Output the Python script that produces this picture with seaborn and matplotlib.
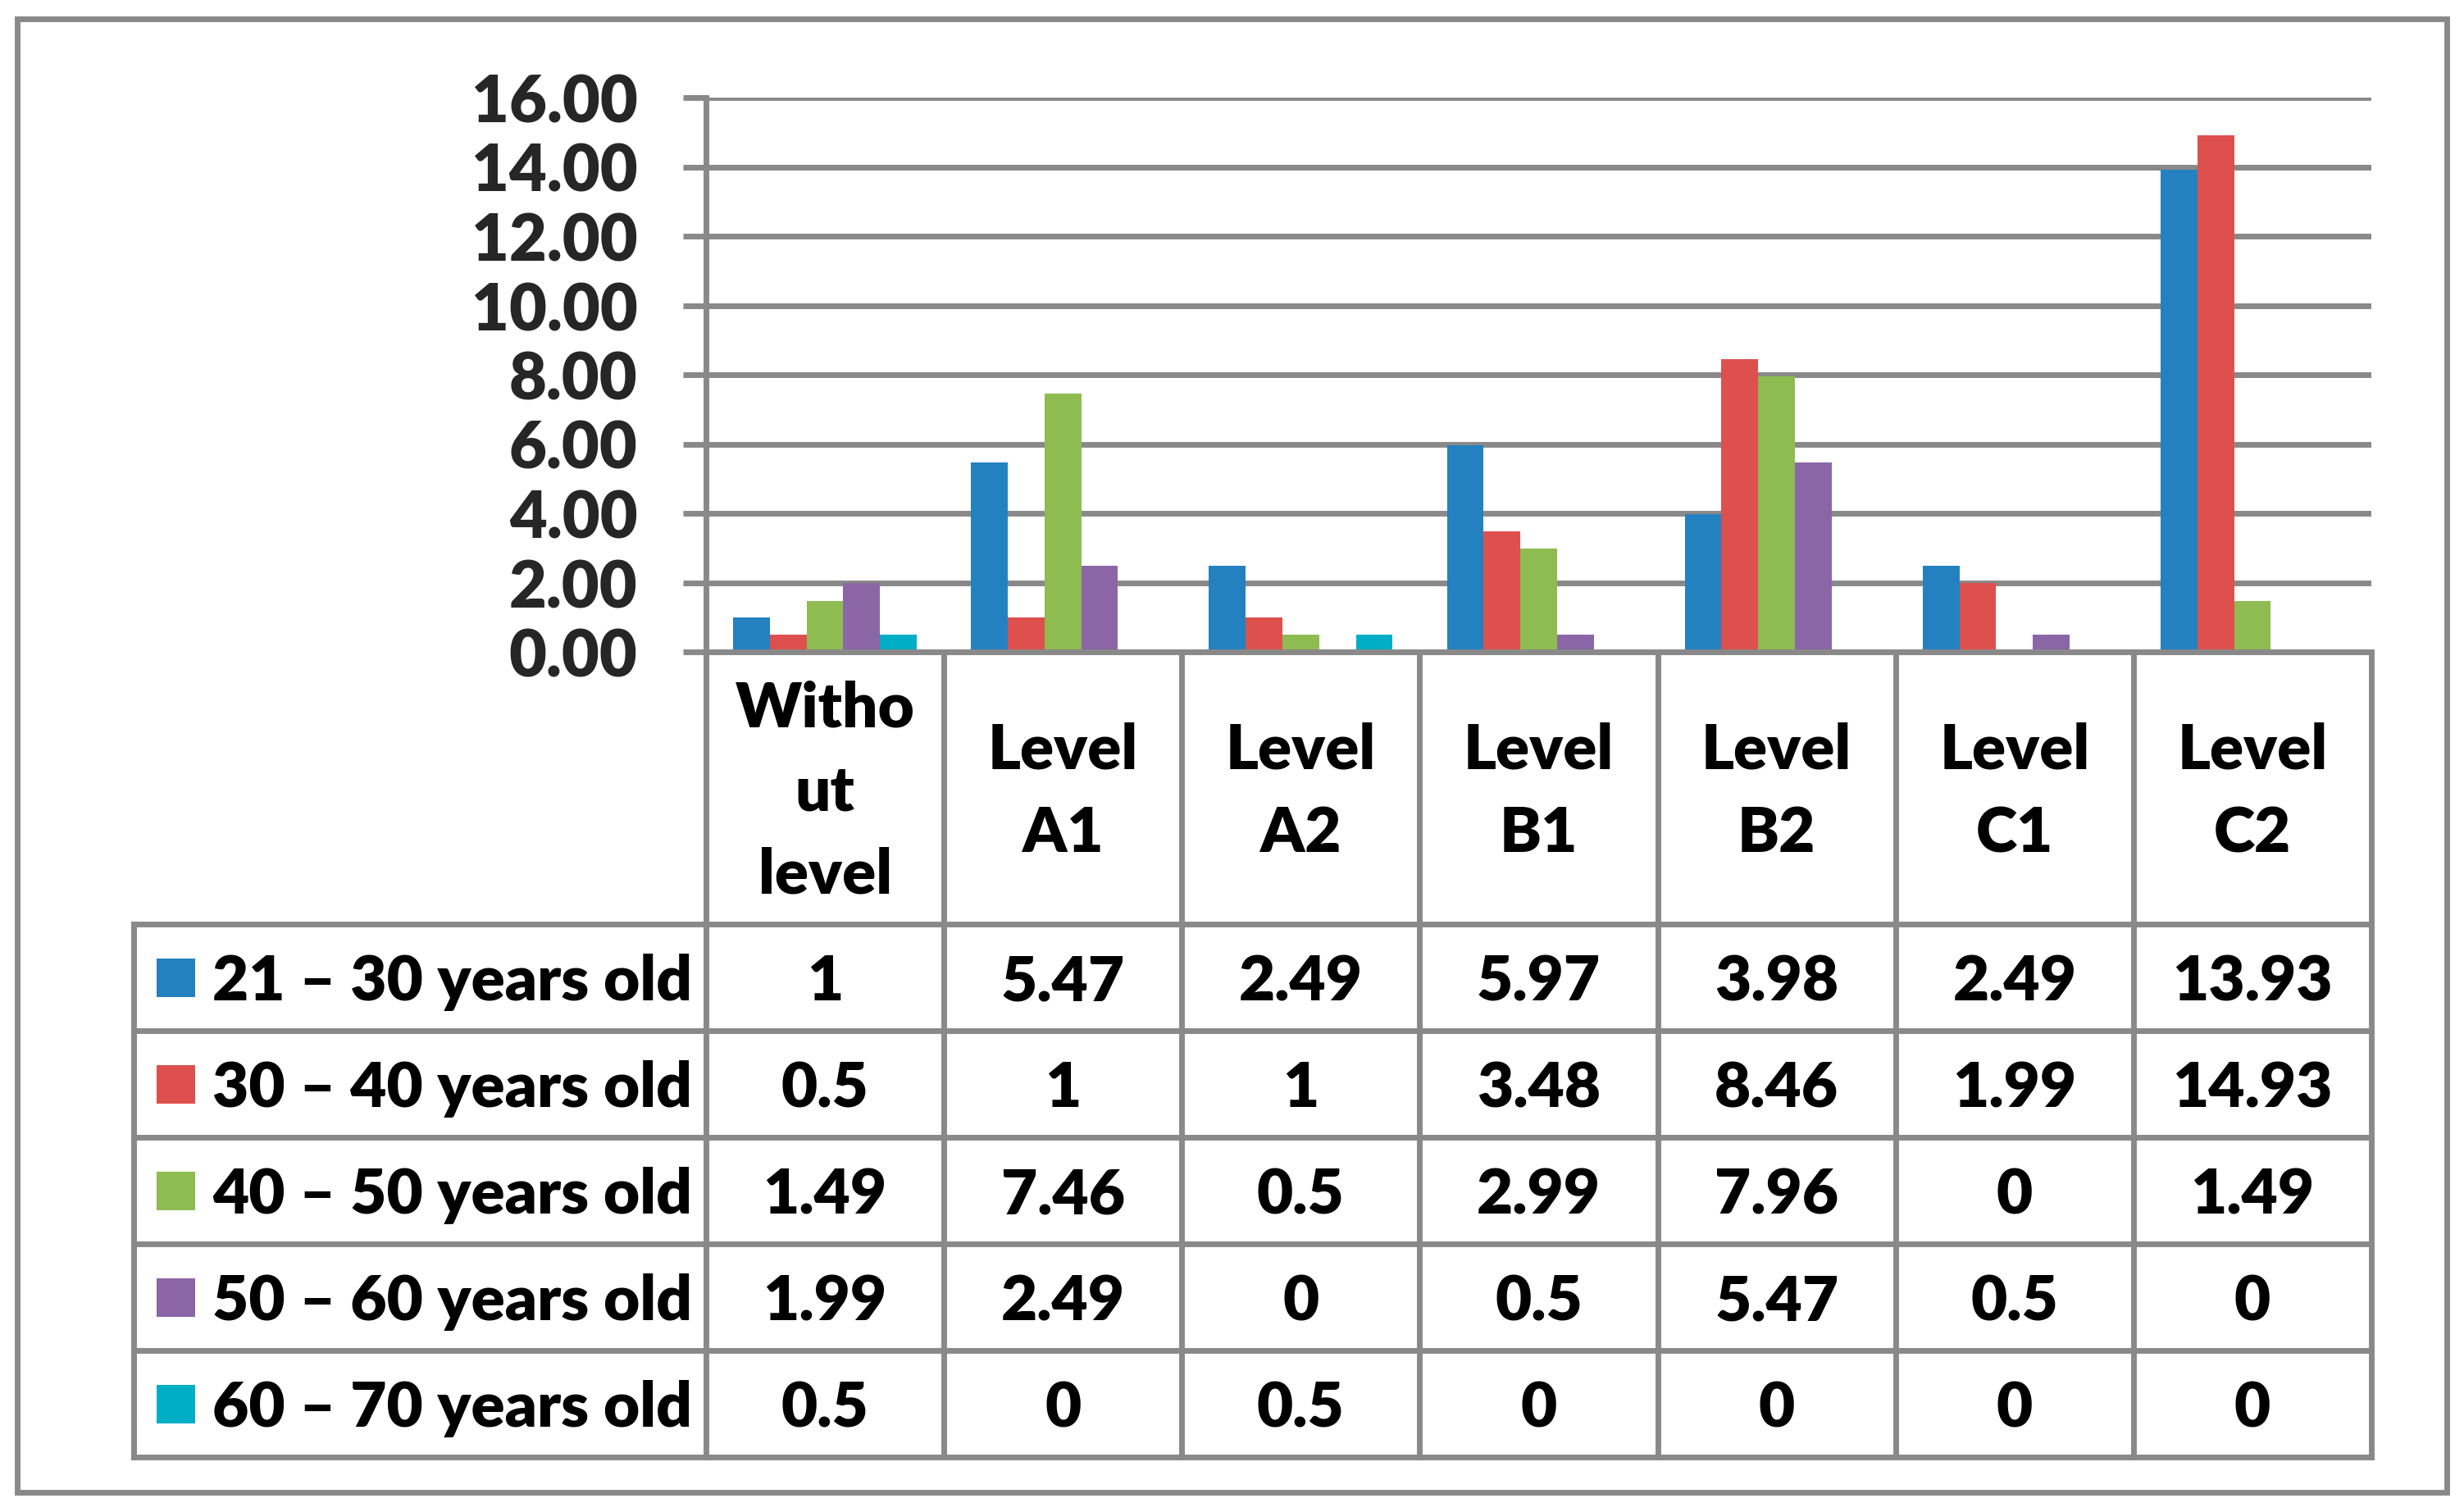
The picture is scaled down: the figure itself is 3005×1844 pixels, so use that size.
import seaborn as sns
import matplotlib.pyplot as plt
import matplotlib.patches as patches
import pandas as pd

# data
levels = ["Without level", "Level A1", "Level A2", "Level B1", "Level B2", "Level C1", "Level C2"]
level_headers = [["Witho", "ut", "level"], ["Level", "A1"], ["Level", "A2"], ["Level", "B1"],
                 ["Level", "B2"], ["Level", "C1"], ["Level", "C2"]]
ages = ["21 – 30 years old", "30 – 40 years old", "40 – 50 years old",
        "50 – 60 years old", "60 – 70 years old"]
age_21_30 = [1, 5.47, 2.49, 5.97, 3.98, 2.49, 13.93]
age_30_40 = [0.5, 1, 1, 3.48, 8.46, 1.99, 14.93]
age_40_50 = [1.49, 7.46, 0.5, 2.99, 7.96, 0, 1.49]
age_50_60 = [1.99, 2.49, 0, 0.5, 5.47, 0.5, 0]
age_60_70 = [0.5, 0, 0.5, 0, 0, 0, 0]
y_ticks = [0, 2, 4, 6, 8, 10, 12, 14, 16]
colors = ["#2481C0", "#DE504E", "#8EBC51", "#8B66A6", "#00AEC6"]

series = [age_21_30, age_30_40, age_40_50, age_50_60, age_60_70]
df = pd.DataFrame({
    "level": levels * len(ages),
    "age": [a for a in ages for _ in levels],
    "value": [v for s in series for v in s],
})

sns.set_theme(style="white")
plt.rcParams['font.family'] = ['Lato', 'DejaVu Sans']
WEIGHT = 800
plt.rcParams['font.weight'] = WEIGHT

GRAY = "#898989"
LW = 5
W, H = 3005, 1844
# layout in pixels
plot_l, plot_r, plot_t, plot_b = 861, 2892, 119.5, 795.5
tab_l, head_b, row_h = 163, 1127, 130
col_w = (plot_r - plot_l) / len(levels)
FS = 55

fig = plt.figure(figsize=(W / 100, H / 100), dpi=100)

# overlay for table and border
ov = fig.add_axes([0, 0, 1, 1])
ov.set_xlim(0, W)
ov.set_ylim(H, 0)
ov.axis('off')

ax = fig.add_axes([plot_l / W, 1 - plot_b / H, (plot_r - plot_l) / W, (plot_b - plot_t) / H])
ax.patch.set_alpha(0)
sns.barplot(data=df, x="level", y="value", hue="age", order=levels, hue_order=ages,
            palette=colors, saturation=1, width=0.772, gap=0, linewidth=0,
            errorbar=None, legend=False, ax=ax)
ax.set_xlim(-0.5, len(levels) - 0.5)
ax.set_ylim(0, 16)
ax.set_xticks([])
ax.set_xlabel("")
ax.set_ylabel("")
ax.set_yticks(y_ticks)
ax.set_yticklabels([f"{t:.2f}" for t in y_ticks], fontsize=57, fontweight=WEIGHT)
ax.tick_params(axis='y', left=True, length=20, width=LW, color=GRAY, pad=40)
ax.set_axisbelow(True)
ax.yaxis.grid(True, color=GRAY, linewidth=LW)
ax.xaxis.grid(False)
for side in ["top", "right"]:
    ax.spines[side].set_visible(False)
for side in ["left", "bottom"]:
    ax.spines[side].set_color(GRAY)
    ax.spines[side].set_linewidth(LW)

# outer border
ov.add_patch(patches.Rectangle((20.5, 23.5), 2984 - 20.5, 1819.5 - 23.5,
                               fill=False, ec=GRAY, lw=LW))

# table grid
tab_b = head_b + row_h * len(ages)
for i in range(len(ages) + 1):
    y = head_b + i * row_h
    ov.plot([tab_l, plot_r], [y, y], color=GRAY, lw=LW, solid_capstyle='projecting')
ov.plot([tab_l, tab_l], [head_b, tab_b], color=GRAY, lw=LW, solid_capstyle='projecting')
for j in range(len(levels) + 1):
    x = plot_l + j * col_w
    ov.plot([x, x], [plot_b, tab_b], color=GRAY, lw=LW, solid_capstyle='projecting')

# header text
head_c = (plot_b + head_b) / 2
for j, lines in enumerate(level_headers):
    xc = plot_l + (j + 0.5) * col_w
    n = len(lines)
    for k, line in enumerate(lines):
        yb = head_c + 27 + (k - (n - 1) / 2) * 101.5
        ov.text(xc, yb, line, ha='center', va='baseline', fontsize=FS, fontweight=WEIGHT, color='black')

# rows
for i, (age, vals, c) in enumerate(zip(ages, series, colors)):
    yc = head_b + (i + 0.5) * row_h
    ov.add_patch(patches.Rectangle((191, yc - 23.5), 47, 47, fc=c, ec='none'))
    ov.text(259, yc + 28, age, ha='left', va='baseline', fontsize=FS, fontweight=WEIGHT, color='black')
    for j, v in enumerate(vals):
        xc = plot_l + (j + 0.5) * col_w
        ov.text(xc, yc + 28, f"{v:g}", ha='center', va='baseline', fontsize=FS,
                fontweight=WEIGHT, color='black')

plt.savefig("out.png", dpi=100)
